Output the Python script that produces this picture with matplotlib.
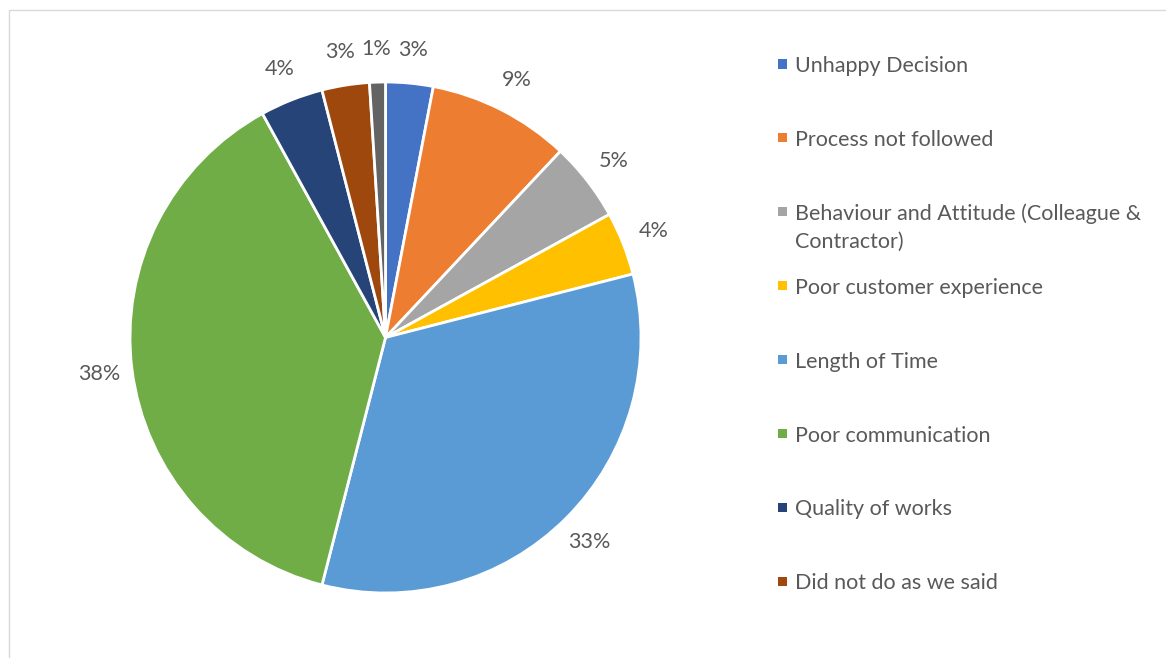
import matplotlib
matplotlib.use("Agg")
import matplotlib.pyplot as plt
from matplotlib.patches import Rectangle

# complaint categories and their share (%)
categories = ["Unhappy Decision", "Process not followed",
              "Behaviour and Attitude (Colleague &\nContractor)",
              "Poor customer experience", "Length of Time",
              "Poor communication", "Quality of works",
              "Did not do as we said", "Other"]
shares = [3, 9, 5, 4, 33, 38, 4, 3, 1]
colors = ["#4472C4", "#ED7D31", "#A5A5A5", "#FFC000", "#5B9BD5",
          "#70AD47", "#264478", "#9E480E", "#636363"]

plt.rcParams['font.family'] = ['Lato', 'DejaVu Sans']
txt = "#595959"
fs = 15.5

W, H = 1166, 658
fig = plt.figure(figsize=(W / 100, H / 100), dpi=100)

# pie: centre (385.5, 337.5) px, radius 255.5 px
cx, cy, r = 385.5, 337.5, 255.5
ax = fig.add_axes([(cx - r) / W, (H - cy - r) / H, 2 * r / W, 2 * r / H])
wedges, _, pct = ax.pie(shares, colors=colors, startangle=90, counterclock=False,
                        autopct="%.0f%%", pctdistance=1.13,
                        wedgeprops=dict(edgecolor="white", linewidth=2.0),
                        textprops=dict(color=txt, fontsize=fs))
ax.set_xlim(-1, 1)
ax.set_ylim(-1, 1)

# legend drawn by hand so entries keep even spacing
for i in range(8):
    y = 64 + 73.9 * i
    fig.add_artist(Rectangle((778 / W, (H - y - 4.5) / H), 9 / W, 9 / H,
                             transform=fig.transFigure, color=colors[i], lw=0))
    fig.text(795 / W, (H - y + 8) / H, categories[i], color=txt, fontsize=fs,
             va="top", ha="left", linespacing=1.45)

# chart area border (left and top edges visible)
fig.add_artist(Rectangle((8.5 / W, -0.05), 1.1, (H - 10) / H + 0.05,
                         transform=fig.transFigure, fill=False,
                         edgecolor="#D9D9D9", lw=1.0))

fig.savefig("out.png", dpi=100)
